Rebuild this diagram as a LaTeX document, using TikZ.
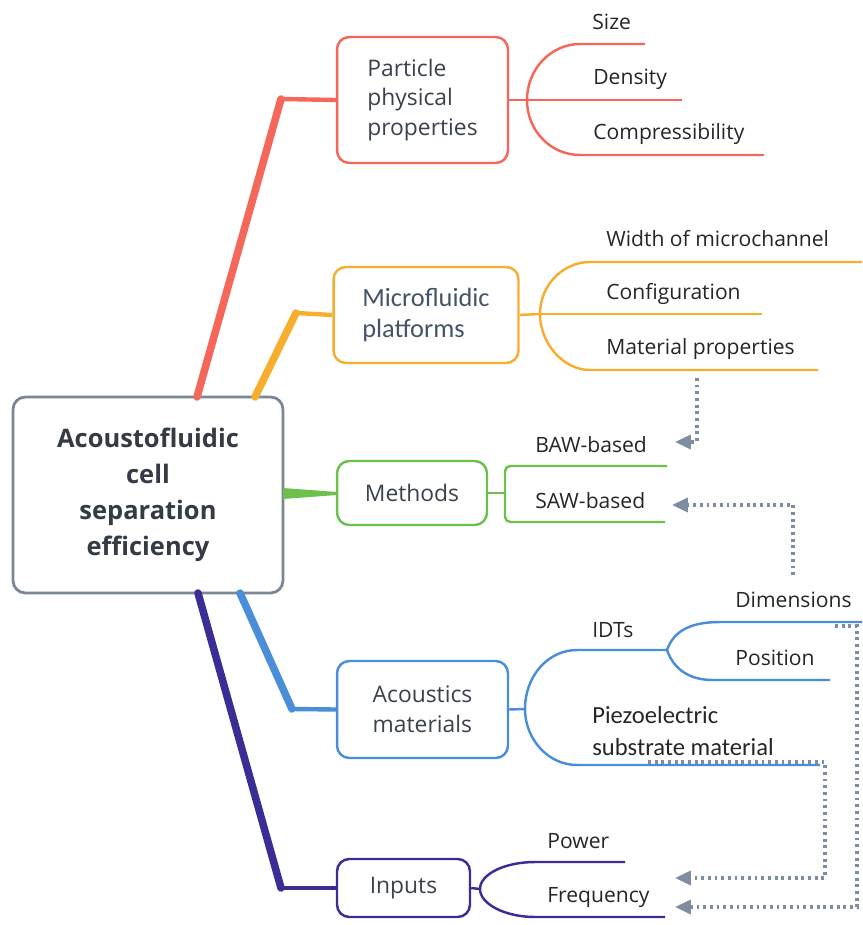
\documentclass[tikz,border=0pt]{standalone}
\usepackage{fontspec}
\setmainfont{Open Sans}
\newfontfamily\calfont{Carlito}
\usetikzlibrary{arrows.meta}

\definecolor{cRed}{HTML}{F4675A}
\definecolor{cOrange}{HTML}{F7AE2E}
\definecolor{cGreen}{HTML}{6DBF4E}
\definecolor{cBlue}{HTML}{4A8DD8}
\definecolor{cPurple}{HTML}{3A2D96}
\definecolor{cRoot}{HTML}{7B8797}
\definecolor{cLink}{HTML}{7F8DA1}
\definecolor{boxtext}{HTML}{3A424C}
\definecolor{slate}{HTML}{44546A}
\definecolor{leaftext}{HTML}{262626}

\tikzset{
	topic/.style={draw, rounded corners=7pt, line width=1.4pt, fill=white, inner sep=0pt, align=left, text=boxtext, font=\fontsize{13}{17}\selectfont},
	leaf/.style={anchor=base west, inner sep=0pt, text=leaftext, font=\fontsize{12}{15}\selectfont},
	twig/.style={line width=1.4pt},
	limb/.style={line width=4.3pt, line cap=round},
	stub/.style={line width=2.5pt},
	link/.style={draw=cLink, line width=1.8pt, dash pattern=on 1.6pt off 2.2pt, -{Triangle[length=9pt,width=8pt,fill=cLink]}},
}

\begin{document}
\begin{tikzpicture}[x=0.02cm, y=-0.02cm]
\useasboundingbox (0,0) rectangle (862,925);

	%% Hauptthema und Themen
	\node[topic, draw=cRoot, line width=1.6pt, align=center, minimum width=5.4cm, minimum height=3.92cm, text=boxtext!90!black, font=\bfseries\fontsize{14.5}{20.4}\selectfont] (root) at (148,495) {Acoustofluidic\\cell\\separation\\efficiency};
	\node[topic, draw=cRed, minimum width=3.42cm, minimum height=2.52cm] (particle) at (422.5,100) {Particle\\physical\\properties};
	\node[topic, draw=cOrange, minimum width=3.7cm, minimum height=1.92cm, text=slate, font=\calfont\fontsize{15}{18}\selectfont] (micro) at (426,315) {Microfluidic\\platforms};
	\node[topic, draw=cGreen, minimum width=3.0cm, minimum height=1.28cm] (methods) at (412,493) {Methods};
	\node[topic, draw=cBlue, minimum width=3.42cm, minimum height=1.94cm] (acoustics) at (422.5,709.5) {Acoustics\\materials};
	\node[topic, draw=cPurple, minimum width=2.66cm, minimum height=1.16cm] (inputs) at (403.5,888) {Inputs};
	%%%%%%%%%%%%%%%%

	%% Aeste
	\draw[limb, cRed] (197,397) -- (281,99) coordinate (bendR);
	\draw[stub, cRed] (bendR) -- (particle.west);
	\draw[limb, cOrange] (255,397) -- (296,313) coordinate (bendO);
	\draw[stub, cOrange] (bendO) -- (micro.west);
	\fill[cGreen] (283,488) -- (337,492) -- (337,495) -- (283,499) -- cycle;
	\draw[limb, cBlue] (240,593) -- (292,709) coordinate (bendB);
	\draw[stub, cBlue] (bendB) -- (acoustics.west);
	\draw[limb, cPurple] (198,593) -- (281,888) coordinate (bendP);
	\draw[stub, cPurple] (bendP) -- (inputs.west);
	%%%%%%%%%%%%%%%%

	%% Particle physical properties
	\node[leaf] (size) at (592,30) {Size};
	\node[leaf] (density) at (593,85) {Density};
	\node[leaf] (compress) at (593,140) {Compressibility};
	\draw[twig, cRed] (particle.east) -- (527,100) coordinate (jR);
	\draw[twig, cRed] (jR) .. controls (527,69) and (551,44) .. (580,44) -- (645,44);
	\draw[twig, cRed] (jR) -- (682,100);
	\draw[twig, cRed] (jR) .. controls (527,131) and (551,155) .. (580,155) -- (764,155);

	%% Microfluidic platforms
	\node[leaf] (width) at (606,247) {Width of microchannel};
	\node[leaf] (config) at (606,300) {Configuration};
	\node[leaf] (matprop) at (606,355) {Material properties};
	\draw[twig, cOrange] (micro.east) -- (540,314) coordinate (jO);
	\draw[twig, cOrange] (jO) .. controls (540,285) and (563,262) .. (590,262) -- (862,262);
	\draw[twig, cOrange] (jO) -- (762,314);
	\draw[twig, cOrange] (jO) .. controls (540,343) and (563,370) .. (590,370) -- (818,370);

	%% Methods
	\node[leaf] (baw) at (535,452) {BAW-based};
	\node[leaf] (saw) at (535,508) {SAW-based};
	\draw[twig, cGreen] (methods.east) -- (505,493);
	\draw[twig, cGreen, rounded corners=3pt] (667,466) -- (505,466) -- (505,522) -- (665,522);

	%% Acoustics materials
	\node[leaf] (idts) at (592,637) {IDTs};
	\node[leaf] (dims) at (735,607) {Dimensions};
	\node[leaf] (position) at (735,665) {Position};
	\node[leaf, anchor=west, align=left, font=\calfont\fontsize{14}{18}\selectfont] (piezo) at (592,731) {Piezoelectric\\substrate material};
	\draw[twig, cBlue] (acoustics.east) -- (525,709) coordinate (jB);
	\draw[twig, cBlue] (jB) .. controls (525,676) and (548,650) .. (577,650) -- (667,650) coordinate (jI);
	\draw[twig, cBlue] (jB) .. controls (525,739) and (548,765) .. (577,765) -- (820,765);
	\draw[twig, cBlue] (jI) .. controls (674,630) and (692,622) .. (720,622) -- (862,622);
	\draw[twig, cBlue] (jI) .. controls (674,670) and (690,680) .. (713,680) -- (830,680);

	%% Inputs
	\node[leaf] (power) at (547,848) {Power};
	\node[leaf] (freq) at (547,902) {Frequency};
	\draw[twig, cPurple] (inputs.east) -- (480,889) coordinate (jP);
	\draw[twig, cPurple] (jP) .. controls (480,874) and (505,862) .. (535,862) -- (625,862);
	\draw[twig, cPurple] (jP) .. controls (480,904) and (505,917) .. (535,917) -- (665,917);

	%% Querverweise
	\draw[link] (697,378) -- (697,442) -- (675,442);
	\draw[link] (793,575) -- (793,505) -- (672,505);
	\draw[link] (835,626) -- (857,626) -- (857,907) -- (675,907);
	\draw[link] (648,762) -- (825,762) -- (825,878) -- (675,878);

%\draw (current bounding box.south west) rectangle (current bounding box.north east);
\end{tikzpicture}
\end{document}
